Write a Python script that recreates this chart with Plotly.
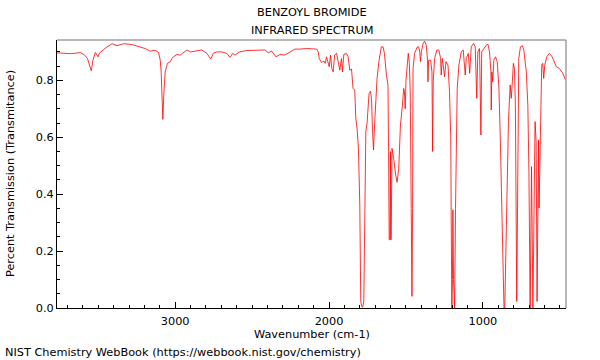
import plotly.graph_objects as go

wavenumber = [
    3768, 3720, 3680, 3640, 3616, 3590, 3570, 3555, 3545, 3535, 3519, 3501, 3492, 3450, 3410, 3378,
    3335, 3281, 3240, 3195, 3162, 3130, 3108, 3097, 3091, 3085, 3080, 3074, 3065, 3050, 3032, 3021,
    3011, 2989, 2968, 2940, 2924, 2900, 2870, 2827, 2794, 2769, 2752, 2730, 2697, 2665, 2643, 2626,
    2611, 2583, 2535, 2470, 2416, 2395, 2373, 2345, 2319, 2287, 2254, 2222, 2189, 2146, 2081, 2070,
    2064, 2049, 2034, 2025, 2016, 2008, 1999, 1990, 1982, 1973, 1964, 1951, 1941, 1930, 1919, 1913,
    1904, 1887, 1876, 1865, 1854, 1844, 1833, 1826, 1818, 1809, 1800, 1794, 1788, 1781, 1774, 1768,
    1761, 1753, 1746, 1740, 1731, 1724, 1718, 1711, 1703, 1696, 1688, 1675, 1666, 1660, 1649, 1640,
    1627, 1617, 1613, 1609, 1604, 1601, 1599, 1596, 1591, 1580, 1567, 1558, 1547, 1536, 1523, 1515,
    1510, 1505, 1500, 1491, 1485, 1478, 1472, 1466, 1461, 1457, 1454, 1444, 1426, 1418, 1410, 1406,
    1400, 1389, 1379, 1368, 1360, 1357, 1353, 1340, 1331, 1327, 1323, 1314, 1299, 1286, 1275, 1271,
    1264, 1258, 1249, 1240, 1227, 1217, 1209, 1206, 1202, 1198, 1195, 1191, 1187, 1184, 1178, 1173,
    1167, 1156, 1141, 1128, 1115, 1108, 1095, 1086, 1076, 1061, 1050, 1040, 1033, 1022, 1013, 1008,
    995, 978, 967, 957, 948, 946, 942, 936, 929, 918, 907, 896, 887, 879, 870, 863,
    858, 848, 834, 823, 816, 810, 802, 795, 789, 780, 772, 767, 756, 744, 734, 718,
    708, 701, 693, 684, 675, 668, 661, 654, 648, 641, 639, 635, 628, 624, 618, 611,
    605, 598, 585, 568, 550, 523, 503, 481, 462,
]
transmittance = [
    0.897, 0.896, 0.894, 0.896, 0.898, 0.890, 0.877, 0.850, 0.834, 0.870, 0.898, 0.883, 0.896, 0.915, 0.929, 0.922,
    0.929, 0.926, 0.920, 0.912, 0.903, 0.906, 0.898, 0.871, 0.830, 0.750, 0.663, 0.750, 0.830, 0.860, 0.866, 0.877,
    0.883, 0.891, 0.889, 0.900, 0.907, 0.900, 0.903, 0.907, 0.895, 0.875, 0.895, 0.900, 0.900, 0.895, 0.881, 0.895,
    0.889, 0.900, 0.905, 0.907, 0.907, 0.897, 0.903, 0.883, 0.891, 0.889, 0.900, 0.910, 0.910, 0.912, 0.910, 0.900,
    0.877, 0.863, 0.868, 0.860, 0.883, 0.865, 0.848, 0.889, 0.842, 0.830, 0.889, 0.895, 0.866, 0.836, 0.877, 0.830,
    0.891, 0.895, 0.883, 0.836, 0.840, 0.772, 0.766, 0.667, 0.632, 0.561, 0.362, 0.025, 0.005, 0.003, 0.025, 0.362,
    0.620, 0.649, 0.690, 0.754, 0.762, 0.737, 0.632, 0.556, 0.655, 0.760, 0.807, 0.871, 0.895, 0.918, 0.918, 0.895,
    0.819, 0.784, 0.550, 0.240, 0.240, 0.550, 0.240, 0.240, 0.561, 0.526, 0.468, 0.442, 0.491, 0.643, 0.713, 0.772,
    0.760, 0.700, 0.800, 0.877, 0.895, 0.860, 0.750, 0.350, 0.041, 0.350, 0.842, 0.895, 0.918, 0.918, 0.900, 0.866,
    0.900, 0.930, 0.938, 0.924, 0.870, 0.795, 0.871, 0.871, 0.830, 0.550, 0.795, 0.877, 0.907, 0.907, 0.877, 0.819,
    0.877, 0.854, 0.813, 0.866, 0.854, 0.760, 0.596, 0.316, 0.000, 0.100, 0.345, 0.100, 0.000, 0.000, 0.350, 0.596,
    0.772, 0.854, 0.900, 0.907, 0.819, 0.877, 0.895, 0.825, 0.918, 0.930, 0.918, 0.737, 0.900, 0.912, 0.608, 0.900,
    0.912, 0.924, 0.927, 0.900, 0.830, 0.696, 0.830, 0.795, 0.871, 0.883, 0.866, 0.772, 0.596, 0.362, 0.129, 0.000,
    0.000, 0.340, 0.655, 0.784, 0.737, 0.784, 0.860, 0.842, 0.713, 0.023, 0.713, 0.877, 0.918, 0.922, 0.907, 0.830,
    0.713, 0.480, 0.000, 0.497, 0.000, 0.300, 0.655, 0.585, 0.023, 0.450, 0.590, 0.351, 0.596, 0.807, 0.854, 0.860,
    0.807, 0.854, 0.883, 0.895, 0.883, 0.848, 0.842, 0.825, 0.800,
]

x_tick_vals = [3000, 2000, 1000]
x_tick_text = ["3000", "2000", "1000"]
y_tick_vals = [0.0, 0.2, 0.4, 0.6, 0.8]
y_tick_text = ["0.0", "0.2", "0.4", "0.6", "0.8"]

FONT = "DejaVu Sans"
FS = 11.3

fig = go.Figure()
fig.add_trace(go.Scatter(
    x=wavenumber, y=transmittance, mode="lines",
    line=dict(color="rgba(255,0,0,0.8)", width=1),
    hoverinfo="skip", showlegend=False,
))

fig.update_layout(
    width=600, height=360,
    margin=dict(l=57, r=34, t=40, b=52),
    paper_bgcolor="white", plot_bgcolor="white",
    font=dict(family=FONT, size=FS, color="black"),
    xaxis=dict(
        range=[3768, 460], showgrid=False, zeroline=False,
        showline=True, linecolor="black", linewidth=1,
        ticks="inside", ticklen=6, tickcolor="black",
        tickvals=x_tick_vals, ticktext=x_tick_text,
        ticklabelstandoff=2,
        minor=dict(dtick=100, tick0=0, ticks="inside", ticklen=3, tickcolor="black"),
        tickfont=dict(family=FONT, size=FS),
    ),
    yaxis=dict(
        range=[0, 0.942], showgrid=False, zeroline=False,
        showline=True, linecolor="black", linewidth=1,
        ticks="inside", ticklen=6, tickcolor="black",
        tickvals=y_tick_vals, ticktext=y_tick_text,
        minor=dict(dtick=0.05, tick0=0, ticks="inside", ticklen=3, tickcolor="black"),
        tickfont=dict(family=FONT, size=FS),
    ),
    shapes=[
        dict(type="line", xref="paper", yref="paper", x0=0, x1=1, y0=1, y1=1,
             line=dict(color="#a0a0a0", width=1.5)),
        dict(type="line", xref="paper", yref="paper", x0=1, x1=1, y0=0, y1=1,
             line=dict(color="#a0a0a0", width=1.5)),
    ],
    annotations=[
        dict(text="BENZOYL BROMIDE", xref="paper", yref="paper", x=0.5, y=(308 - 13) / 268,
             xanchor="center", yanchor="middle", showarrow=False, font=dict(size=FS)),
        dict(text="INFRARED SPECTRUM", xref="paper", yref="paper", x=0.5, y=(308 - 30) / 268,
             xanchor="center", yanchor="middle", showarrow=False, font=dict(size=FS)),
        dict(text="Wavenumber (cm-1)", xref="paper", yref="paper", x=0.5, y=(308 - 334) / 268,
             xanchor="center", yanchor="middle", showarrow=False, font=dict(size=FS)),
        dict(text="Percent Transmission (Transmitance)", xref="paper", yref="paper",
             x=(10 - 57) / 509, y=0.5, xanchor="center", yanchor="middle", textangle=-90,
             showarrow=False, font=dict(size=FS)),
        dict(text="NIST Chemistry WebBook (https://webbook.nist.gov/chemistry)", xref="paper",
             yref="paper", x=(3 - 57) / 509, y=(308 - 352) / 268, xanchor="left",
             yanchor="middle", showarrow=False, font=dict(size=FS)),
    ],
)

fig.write_html(
    "out.html",
    config={"displayModeBar": False},
    post_script="document.body.style.margin='0';document.body.style.overflow='hidden';",
)
